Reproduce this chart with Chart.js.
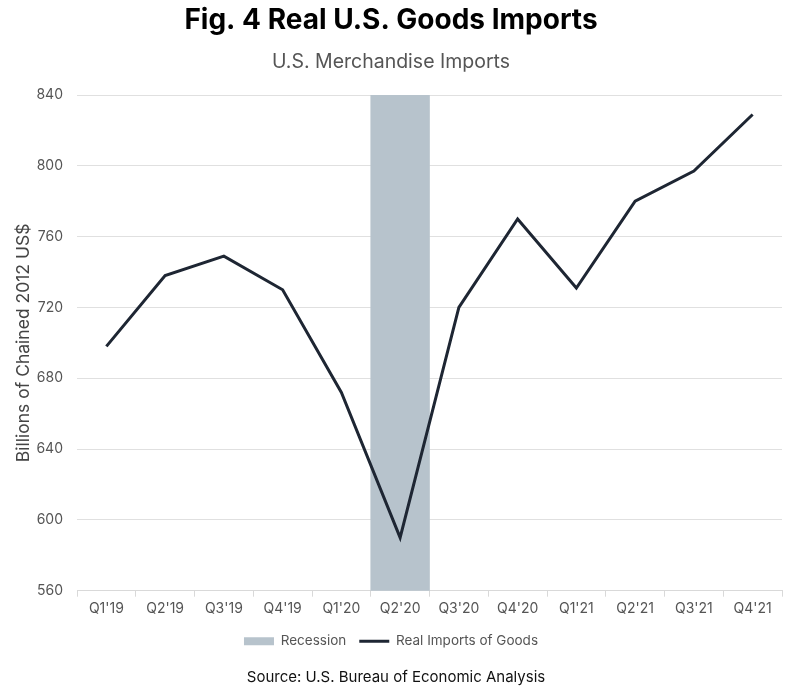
<!DOCTYPE html>
<html>
<head>
<meta charset="utf-8">
<script src="https://cdn.jsdelivr.net/npm/chart.js@4.4.0/dist/chart.umd.min.js"></script>
<style>
  html, body { margin: 0; padding: 0; background: #fff; }
  #wrap { width: 800px; height: 694px; }
</style>
</head>
<body>
<div id="wrap"><canvas id="importsChart"></canvas></div>
<script>
const quarters = ["Q1'19", "Q2'19", "Q3'19", "Q4'19", "Q1'20", "Q2'20", "Q3'20", "Q4'20", "Q1'21", "Q2'21", "Q3'21", "Q4'21"];
const realImports = [698, 738, 749, 730, 672, 590, 720, 770, 731, 780, 797, 829];
const recession = [null, null, null, null, null, [560, 840], null, null, null, null, null, null];
const yMin = 560;
const yMax = 840;
const yStep = 40;

const fontFamily = 'Inter, "Noto Sans", sans-serif';

const sourceNote = {
    id: 'sourceNote',
    afterDraw(chart) {
        const ctx = chart.ctx;
        ctx.save();
        ctx.font = '15px ' + fontFamily;
        ctx.fillStyle = '#111';
        ctx.textAlign = 'center';
        ctx.textBaseline = 'middle';
        ctx.fillText('Source: U.S. Bureau of Economic Analysis', chart.width / 2 - 4, 677);
        ctx.restore();
    }
};

const ctx = document.getElementById('importsChart');

new Chart(ctx, {
    type: 'bar',
    data: {
        labels: quarters,
        datasets: [
            {
                type: 'bar',
                label: 'Recession',
                data: recession,
                backgroundColor: '#b7c3cc',
                borderWidth: 0,
                barPercentage: 1,
                categoryPercentage: 1,
                pointStyle: 'rect',
                order: 2
            },
            {
                type: 'line',
                label: 'Real Imports of Goods',
                data: realImports,
                borderColor: '#1e2633',
                backgroundColor: '#1e2633',
                borderWidth: 3,
                pointRadius: 0,
                tension: 0,
                pointStyle: 'line',
                order: 1
            }
        ]
    },
    options: {
        responsive: true,
        maintainAspectRatio: false,
        animation: false,
        layout: {
            padding: { left: 0, right: 18, top: 4, bottom: 36 }
        },
        plugins: {
            title: {
                display: true,
                text: 'Fig. 4 Real U.S. Goods Imports',
                color: '#000',
                font: { family: fontFamily, size: 28, weight: '700' },
                padding: { top: 0, bottom: 11 }
            },
            subtitle: {
                display: true,
                text: 'U.S. Merchandise Imports',
                color: '#555',
                font: { family: fontFamily, size: 19.5 },
                padding: { top: 2, bottom: 21 }
            },
            legend: {
                position: 'bottom',
                labels: {
                    usePointStyle: true,
                    pointStyleWidth: 30,
                    boxHeight: 8,
                    color: '#555',
                    padding: 13,
                    font: { family: fontFamily, size: 13.5 },
                    sort: (a, b) => a.datasetIndex - b.datasetIndex
                }
            },
            tooltip: { enabled: false }
        },
        scales: {
            x: {
                offset: true,
                grid: {
                    drawOnChartArea: false,
                    drawTicks: true,
                    tickLength: 6,
                    color: '#d9d9d9'
                },
                border: { color: '#d9d9d9' },
                ticks: {
                    color: '#555',
                    font: { family: fontFamily, size: 14 },
                    padding: 4,
                    maxRotation: 0
                }
            },
            y: {
                min: yMin,
                max: yMax,
                afterFit: (scale) => { scale.width = 77; },
                grid: {
                    color: '#e0e0e0',
                    drawTicks: false
                },
                border: { display: false },
                ticks: {
                    stepSize: yStep,
                    color: '#555',
                    font: { family: fontFamily, size: 14 },
                    padding: 14
                },
                title: {
                    display: true,
                    text: 'Billions of Chained 2012 US$',
                    color: '#444',
                    font: { family: fontFamily, size: 17.5 },
                    padding: { top: 13, bottom: 4 }
                }
            }
        }
    },
    plugins: [sourceNote]
});
</script>
</body>
</html>
